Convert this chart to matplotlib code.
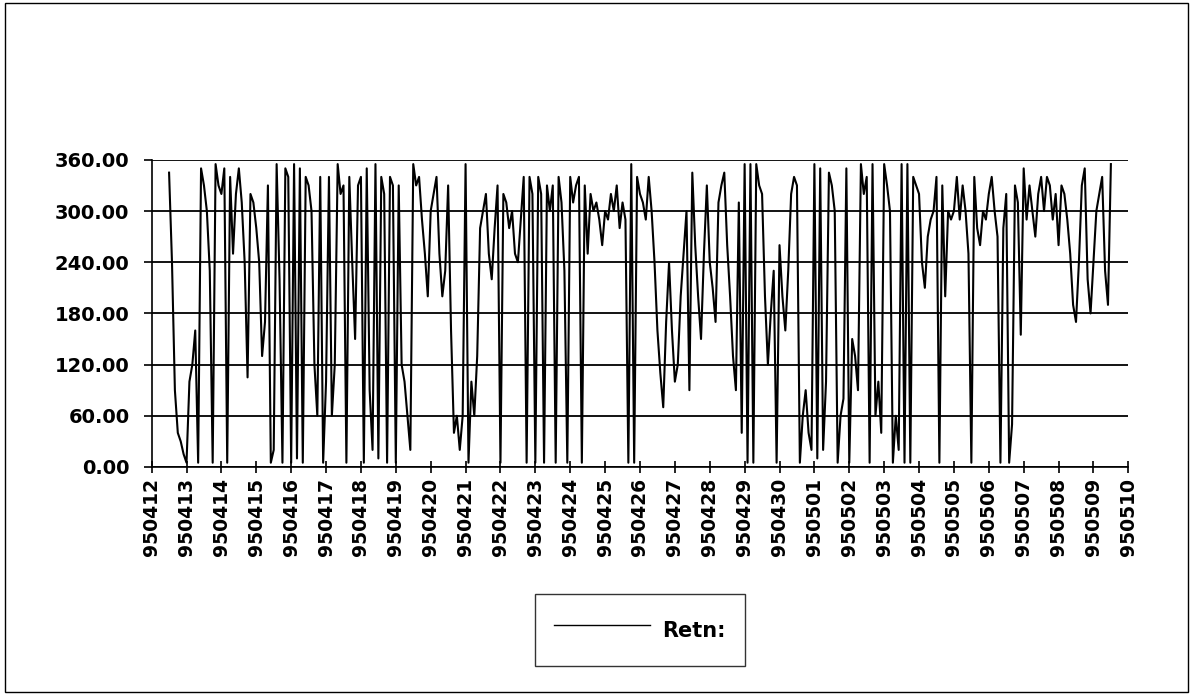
import numpy as np
import matplotlib
matplotlib.use("Agg")
import matplotlib.pyplot as plt
from matplotlib.patches import Rectangle

# category labels on the x axis (one per day)
day_labels = ["9504%02d" % d for d in range(12, 31)] + ["9505%02d" % d for d in range(1, 11)]

# wind direction readings, every 2 hours from noon on the first day
start_day = 0.5
step_hours = 2
retn = [
    345, 240, 90, 40, 30, 15,   5, 100, 120, 160, 5, 350,
    330, 300, 230, 5, 355, 330,   320, 350, 5, 340, 250, 320,
    350, 310, 240, 105, 320, 310,   280, 240, 130, 170, 330, 5,
    20, 355, 220, 5, 350, 340,   5, 355, 10, 350, 5, 340,
    330, 300, 120, 60, 340, 5,   100, 340, 60, 120, 355, 320,
    330, 5, 340, 240, 150, 330,   340, 5, 350, 90, 20, 355,
    10, 340, 320, 5, 340, 330,   5, 330, 120, 100, 60, 20,
    355, 330, 340, 290, 250, 200,   300, 320, 340, 250, 200, 230,
    330, 160, 40, 60, 20, 60,   355, 5, 100, 60, 130, 280,
    300, 320, 250, 220, 280, 330,   5, 320, 310, 280, 300, 250,
    240, 290, 340, 5, 340, 320,   5, 340, 320, 5, 330, 300,
    330, 5, 340, 310, 230, 5,   340, 310, 330, 340, 5, 330,
    250, 320, 300, 310, 290, 260,   300, 290, 320, 300, 330, 280,
    310, 290, 5, 355, 5, 340,
    # 950426 onwards
    320, 310, 290, 340, 300, 240,   160, 110, 70, 170, 240, 160,
    100, 120, 200, 250, 300, 90,   345, 260, 200, 150, 250, 330,
    240, 210, 170, 310, 330, 345,   260, 200, 130, 90, 310, 40,
    355, 5, 355, 5, 355, 330,   320, 200, 120, 180, 230, 5,
    260, 200, 160, 230, 320, 340,   330, 5, 60, 90, 40, 20,
    355, 10, 350, 20, 100, 345,   330, 300, 5, 60, 80, 350,
    5, 150, 130, 90, 355, 320,   340, 5, 355, 60, 100, 40,
    355, 330, 300, 5, 60, 20,   355, 5, 355, 5, 340, 330,
    320, 240, 210, 270, 290, 300,   340, 5, 330, 200, 300, 290,
    300, 340, 290, 330, 300, 250,   5, 340, 280, 260, 300, 290,
    320, 340, 300, 270, 5, 280,   320, 5, 50, 330, 310, 155,
    350, 290, 330, 300, 270, 320,   340, 300, 340, 330, 290, 320,
    260, 330, 320, 290, 250, 190,   170, 240, 330, 350, 220, 180,
    240, 300, 320, 340, 230, 190,   355,
]

y_ticks = [0, 60, 120, 180, 240, 300, 360]

t = start_day + np.arange(len(retn)) * step_hours / 24.0

fig = plt.figure(figsize=(11.94, 6.98), dpi=100)
ax = fig.add_axes([0.127, 0.331, 0.818, 0.440])

line, = ax.plot(t, retn, color="black", lw=1.5, label="Retn:")

ax.set_xlim(0, len(day_labels) - 1)
ax.set_ylim(0, 360)
ax.set_yticks(y_ticks)
ax.set_yticklabels(["%.2f" % v for v in y_ticks], fontsize=14, fontweight="bold")
ax.set_xticks(range(len(day_labels)))
ax.set_xticklabels(day_labels, rotation=90, fontsize=13.5, fontweight="bold")

ax.yaxis.grid(True, color="black", lw=1.3)
ax.set_axisbelow(True)
for side in ("top", "right"):
    ax.spines[side].set_visible(False)
ax.spines["left"].set_linewidth(1.2)
ax.spines["bottom"].set_linewidth(1.2)
ax.tick_params(axis="y", direction="out", length=6, width=1.2, pad=10)
ax.tick_params(axis="x", direction="inout", length=8, width=1.2, pad=4)

leg = fig.legend(handles=[line], loc="center", bbox_to_anchor=(0.536, 0.097),
                 frameon=True, fancybox=False, edgecolor="black",
                 prop={"weight": "bold", "size": 15}, handlelength=4.6,
                 handleheight=2.2, borderpad=0.9, handletextpad=0.6)
leg.get_frame().set_linewidth(1.0)
leg.get_lines()[0].set_linewidth(1.0)

# outer chart border
fig.patches.append(Rectangle((0.004, 0.008), 0.991, 0.987, transform=fig.transFigure,
                             fill=False, edgecolor="black", lw=1.0))

fig.savefig("out.png", dpi=100)
